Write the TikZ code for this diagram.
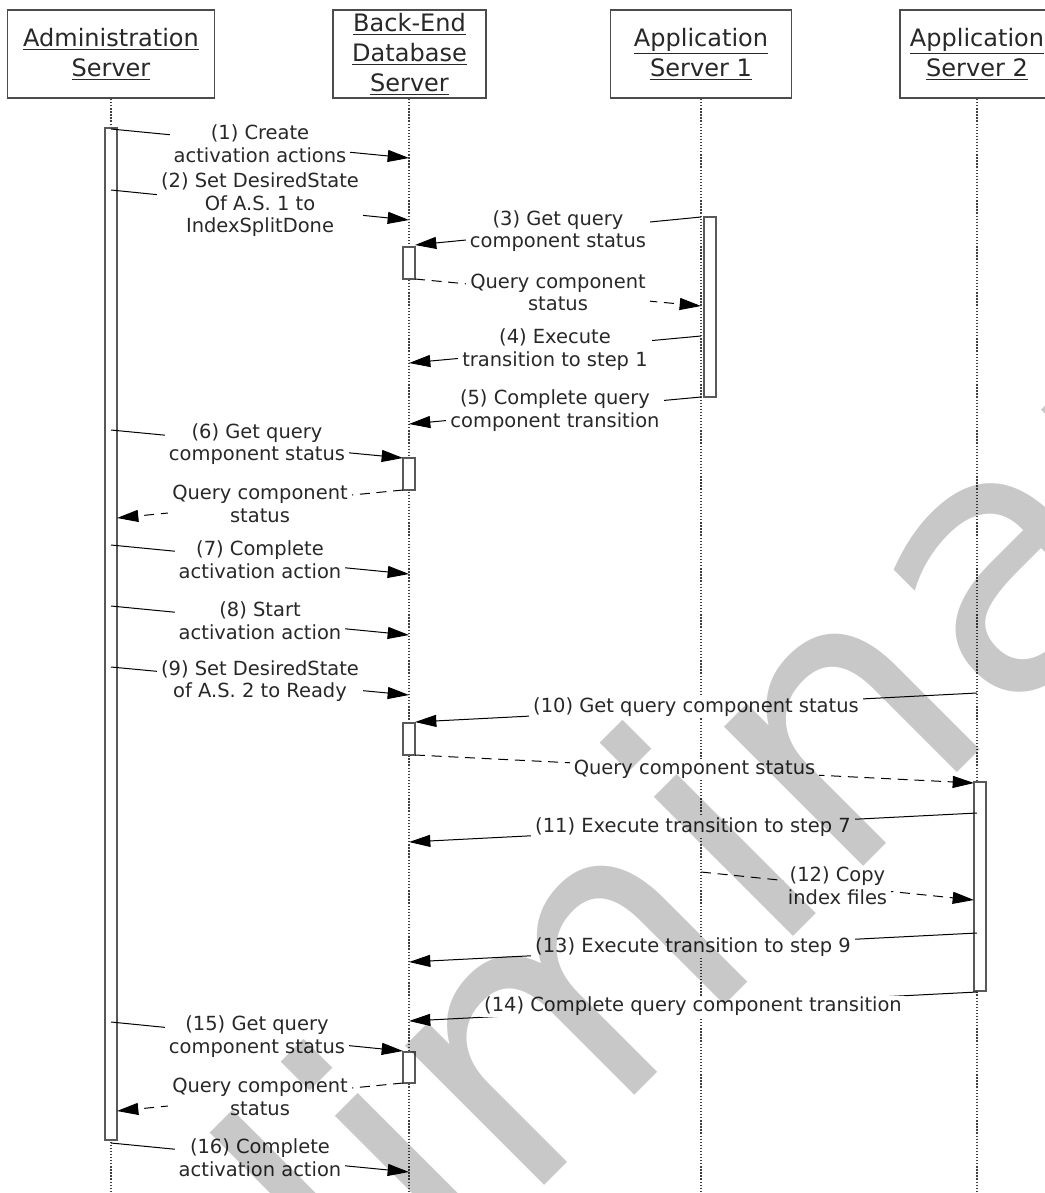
\documentclass[tikz,border=0pt]{standalone}
\usepackage{fontspec}
\setmainfont{DejaVu Sans}
\usetikzlibrary{arrows.meta}
\definecolor{wmgray}{RGB}{200,200,200}
\definecolor{txt}{RGB}{40,40,40}
\begin{document}
\begin{tikzpicture}[x=0.75pt,y=-0.75pt,
  hdr/.style={draw=black!70, line width=1.1pt, fill=white, inner sep=0pt},
  htxt/.style={text=txt, align=center, font=\fontsize{18}{22.5}\selectfont, inner sep=0pt},
  life/.style={draw=black!75, line width=0.8pt, dash pattern=on 1pt off 1.3pt},
  actbar/.style={draw=black!65, line width=1pt, fill=white, inner sep=0pt, minimum width=9pt},
  msg/.style={draw=black, line width=0.75pt, -{Triangle[length=16pt,width=9pt]}},
  rep/.style={msg, dash pattern=on 7.5pt off 5pt},
  lbl/.style={fill=white, text=txt, align=center, inner xsep=3pt, inner ysep=0.5pt, font=\fontsize{14.6}{16.9}\selectfont},
  wmark/.style={text=wmgray, inner sep=0pt, font=\fontsize{270}{300}\selectfont}
]
\useasboundingbox (0,0) rectangle (1045,1193);

% header boxes
\node[hdr, minimum width=155.25pt, minimum height=66pt] (adm) at (111,54) {};
\node[hdr, minimum width=114.75pt, minimum height=66pt] (db)  at (409.5,54) {};
\node[hdr, minimum width=135.75pt, minimum height=66pt] (as1) at (701,54) {};
\node[hdr, minimum width=115.5pt,  minimum height=66pt] (as2) at (977,54) {};
\node[htxt] (admT) at (111,54) {\underline{Administration}\\\underline{Server}};
\node[htxt] (dbT) at (409.5,54) {\underline{Back-End}\\\underline{Database}\\\underline{Server}};
\node[htxt] (as1T) at (701,54) {\underline{Application}\\\underline{Server 1}};
\node[htxt] (as2T) at (977,54) {\underline{Application}\\\underline{Server 2}};

% lifelines
\coordinate (admTop) at (111,99);  \coordinate (admEnd) at (111,1193);
\coordinate (dbTop)  at (409,99);  \coordinate (dbEnd)  at (409,1193);
\coordinate (as1Top) at (701,99);  \coordinate (as1End) at (701,1193);
\coordinate (as2Top) at (977,99);  \coordinate (as2End) at (977,1193);
\draw[life] (admTop) -- (admEnd);
\draw[life] (dbTop) -- (dbEnd);
\draw[life] (as1Top) -- (as1End);
\draw[life] (as2Top) -- (as2End);

% activation bars
\node[actbar, minimum height=759pt] (barA) at (111,634) {};
\node[actbar, minimum height=24pt] (barD1) at (409,263) {};
\node[actbar, minimum height=135pt] (barS1) at (710,307) {};
\node[actbar, minimum height=24pt] (barD2) at (409,474) {};
\node[actbar, minimum height=24pt] (barD3) at (409,739) {};
\node[actbar, minimum height=156.75pt] (barS2) at (980,886.5) {};
\node[actbar, minimum height=23.25pt] (barD4) at (409,1067.5) {};

% message end points
\coordinate (s1) at (111,129);  \coordinate (e1) at (409,158);
\coordinate (s2) at (111,190);  \coordinate (e2) at (409,220);
\coordinate (s3) at (701,217);  \coordinate (e3) at (415,245);
\coordinate (s3r) at (415,279); \coordinate (e3r) at (701,306);
\coordinate (s4) at (701,336);  \coordinate (e4) at (409,363);
\coordinate (s5) at (701,397);  \coordinate (e5) at (409,424);
\coordinate (s6) at (111,430);  \coordinate (e6) at (403,458);
\coordinate (s6r) at (403,490); \coordinate (e6r) at (117,518);
\coordinate (s7) at (111,545);  \coordinate (e7) at (409,574);
\coordinate (s8) at (111,606);  \coordinate (e8) at (409,635);
\coordinate (s9) at (111,667);  \coordinate (e9) at (409,695);
\coordinate (s10) at (977,693); \coordinate (e10) at (415,722);
\coordinate (s10r) at (415,755); \coordinate (e10r) at (974,783);
\coordinate (s11) at (977,813); \coordinate (e11) at (409,842);
\coordinate (s12) at (701,872); \coordinate (e12) at (974,900);
\coordinate (s13) at (977,933); \coordinate (e13) at (409,962);
\coordinate (s14) at (977,992); \coordinate (e14) at (409,1021);
\coordinate (s15) at (111,1022); \coordinate (e15) at (403,1051);
\coordinate (s15r) at (403,1083); \coordinate (e15r) at (117,1111);
\coordinate (s16) at (111,1143); \coordinate (e16) at (409,1172);

% messages
\draw[msg] (s1) -- node[lbl] (l1) {(1) Create\\activation actions} (e1);
\draw[msg] (s2) -- node[lbl] (l2) {(2) Set DesiredState\\Of A.S. 1 to\\IndexSplitDone} (e2);
\draw[msg] (s3) -- node[lbl] (l3) {(3) Get query\\component status} (e3);
\draw[rep] (s3r) -- node[lbl] (l3r) {Query component\\status} (e3r);
\draw[msg] (s4) -- node[lbl] (l4) {(4) Execute\\transition to step 1} (e4);
\draw[msg] (s5) -- node[lbl] (l5) {(5) Complete query\\component transition} (e5);
\draw[msg] (s6) -- node[lbl] (l6) {(6) Get query\\component status} (e6);
\draw[rep] (s6r) -- node[lbl] (l6r) {Query component\\status} (e6r);
\draw[msg] (s7) -- node[lbl] (l7) {(7) Complete\\activation action} (e7);
\draw[msg] (s8) -- node[lbl] (l8) {(8) Start\\activation action} (e8);
\draw[msg] (s9) -- node[lbl] (l9) {(9) Set DesiredState\\of A.S. 2 to Ready} (e9);
\draw[msg] (s10) -- node[lbl] (l10) {(10) Get query component status} (e10);
\draw[rep] (s10r) -- node[lbl] (l10r) {Query component status} (e10r);
\draw[msg] (s11) -- node[lbl] (l11) {(11) Execute transition to step 7} (e11);
\draw[rep] (s12) -- node[lbl] (l12) {(12) Copy\\index files} (e12);
\draw[msg] (s13) -- node[lbl] (l13) {(13) Execute transition to step 9} (e13);
\draw[msg] (s14) -- node[lbl] (l14) {(14) Complete query component transition} (e14);
\draw[msg] (s15) -- node[lbl] (l15) {(15) Get query\\component status} (e15);
\draw[rep] (s15r) -- node[lbl] (l15r) {Query component\\status} (e15r);
\draw[msg] (s16) -- node[lbl] (l16) {(16) Complete\\activation action} (e16);

% watermark
\begin{scope}[blend mode=multiply]
\node[wmark, anchor=base west, rotate=45] (wm) at (-25,1755) {Preliminary};
\end{scope}
\end{tikzpicture}
\end{document}
